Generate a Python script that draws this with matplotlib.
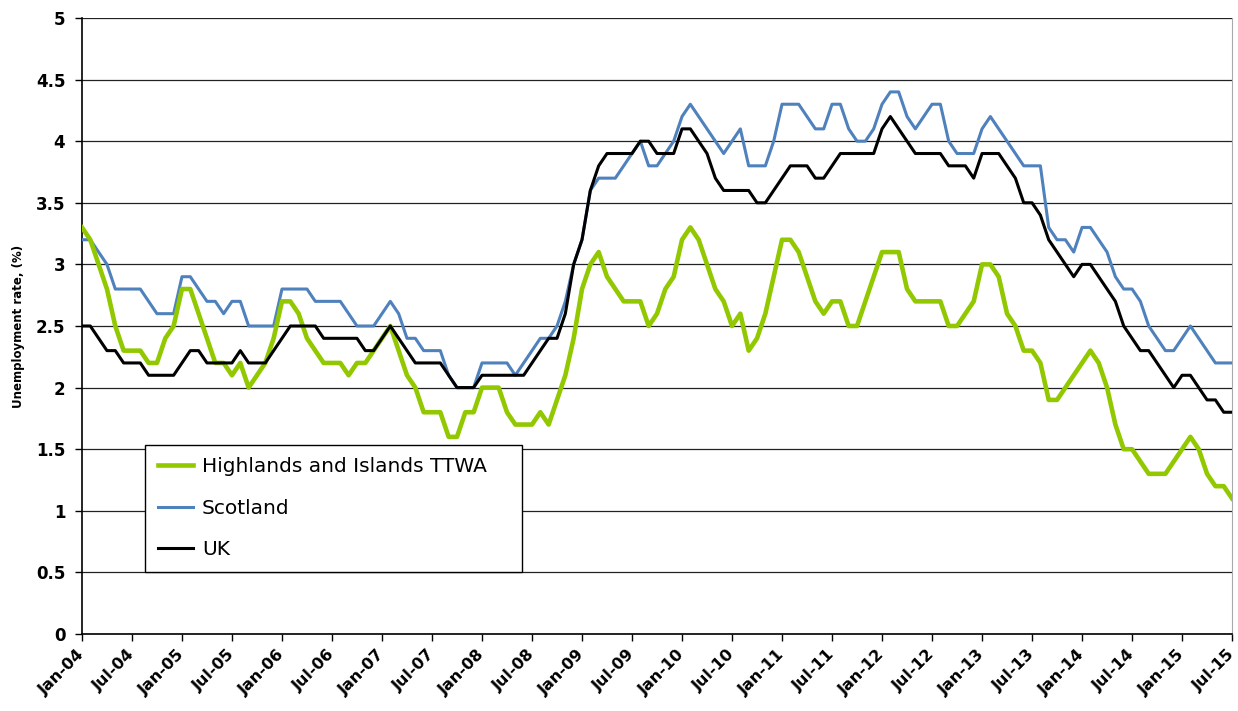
import matplotlib
matplotlib.use('Agg')
import matplotlib.pyplot as plt
from matplotlib.ticker import FuncFormatter
from matplotlib.transforms import ScaledTranslation
import numpy as np

# monthly unemployment rate (%), Jan-04 .. Jul-15
highlands = [3.3, 3.2, 3.0, 2.8, 2.5, 2.3, 2.3, 2.3, 2.2, 2.2,
             2.4, 2.5, 2.8, 2.8, 2.6, 2.4, 2.2, 2.2, 2.1, 2.2,
             2.0, 2.1, 2.2, 2.4, 2.7, 2.7, 2.6, 2.4, 2.3, 2.2,
             2.2, 2.2, 2.1, 2.2, 2.2, 2.3, 2.4, 2.5, 2.3, 2.1,
             2.0, 1.8, 1.8, 1.8, 1.6, 1.6, 1.8, 1.8, 2.0, 2.0,
             2.0, 1.8, 1.7, 1.7, 1.7, 1.8, 1.7, 1.9, 2.1, 2.4,
             2.8, 3.0, 3.1, 2.9, 2.8, 2.7, 2.7, 2.7, 2.5, 2.6,
             2.8, 2.9, 3.2, 3.3, 3.2, 3.0, 2.8, 2.7, 2.5, 2.6,
             2.3, 2.4, 2.6, 2.9, 3.2, 3.2, 3.1, 2.9, 2.7, 2.6,
             2.7, 2.7, 2.5, 2.5, 2.7, 2.9, 3.1, 3.1, 3.1, 2.8,
             2.7, 2.7, 2.7, 2.7, 2.5, 2.5, 2.6, 2.7, 3.0, 3.0,
             2.9, 2.6, 2.5, 2.3, 2.3, 2.2, 1.9, 1.9, 2.0, 2.1,
             2.2, 2.3, 2.2, 2.0, 1.7, 1.5, 1.5, 1.4, 1.3, 1.3,
             1.3, 1.4, 1.5, 1.6, 1.5, 1.3, 1.2, 1.2, 1.1]

scotland = [3.2, 3.2, 3.1, 3.0, 2.8, 2.8, 2.8, 2.8, 2.7, 2.6,
            2.6, 2.6, 2.9, 2.9, 2.8, 2.7, 2.7, 2.6, 2.7, 2.7,
            2.5, 2.5, 2.5, 2.5, 2.8, 2.8, 2.8, 2.8, 2.7, 2.7,
            2.7, 2.7, 2.6, 2.5, 2.5, 2.5, 2.6, 2.7, 2.6, 2.4,
            2.4, 2.3, 2.3, 2.3, 2.1, 2.0, 2.0, 2.0, 2.2, 2.2,
            2.2, 2.2, 2.1, 2.2, 2.3, 2.4, 2.4, 2.5, 2.7, 3.0,
            3.2, 3.6, 3.7, 3.7, 3.7, 3.8, 3.9, 4.0, 3.8, 3.8,
            3.9, 4.0, 4.2, 4.3, 4.2, 4.1, 4.0, 3.9, 4.0, 4.1,
            3.8, 3.8, 3.8, 4.0, 4.3, 4.3, 4.3, 4.2, 4.1, 4.1,
            4.3, 4.3, 4.1, 4.0, 4.0, 4.1, 4.3, 4.4, 4.4, 4.2,
            4.1, 4.2, 4.3, 4.3, 4.0, 3.9, 3.9, 3.9, 4.1, 4.2,
            4.1, 4.0, 3.9, 3.8, 3.8, 3.8, 3.3, 3.2, 3.2, 3.1,
            3.3, 3.3, 3.2, 3.1, 2.9, 2.8, 2.8, 2.7, 2.5, 2.4,
            2.3, 2.3, 2.4, 2.5, 2.4, 2.3, 2.2, 2.2, 2.2]

uk = [2.5, 2.5, 2.4, 2.3, 2.3, 2.2, 2.2, 2.2, 2.1, 2.1,
      2.1, 2.1, 2.2, 2.3, 2.3, 2.2, 2.2, 2.2, 2.2, 2.3,
      2.2, 2.2, 2.2, 2.3, 2.4, 2.5, 2.5, 2.5, 2.5, 2.4,
      2.4, 2.4, 2.4, 2.4, 2.3, 2.3, 2.4, 2.5, 2.4, 2.3,
      2.2, 2.2, 2.2, 2.2, 2.1, 2.0, 2.0, 2.0, 2.1, 2.1,
      2.1, 2.1, 2.1, 2.1, 2.2, 2.3, 2.4, 2.4, 2.6, 3.0,
      3.2, 3.6, 3.8, 3.9, 3.9, 3.9, 3.9, 4.0, 4.0, 3.9,
      3.9, 3.9, 4.1, 4.1, 4.0, 3.9, 3.7, 3.6, 3.6, 3.6,
      3.6, 3.5, 3.5, 3.6, 3.7, 3.8, 3.8, 3.8, 3.7, 3.7,
      3.8, 3.9, 3.9, 3.9, 3.9, 3.9, 4.1, 4.2, 4.1, 4.0,
      3.9, 3.9, 3.9, 3.9, 3.8, 3.8, 3.8, 3.7, 3.9, 3.9,
      3.9, 3.8, 3.7, 3.5, 3.5, 3.4, 3.2, 3.1, 3.0, 2.9,
      3.0, 3.0, 2.9, 2.8, 2.7, 2.5, 2.4, 2.3, 2.3, 2.2,
      2.1, 2.0, 2.1, 2.1, 2.0, 1.9, 1.9, 1.8, 1.8]

tick_labels = ['Jan-04', 'Jul-04', 'Jan-05', 'Jul-05', 'Jan-06', 'Jul-06',
               'Jan-07', 'Jul-07', 'Jan-08', 'Jul-08', 'Jan-09', 'Jul-09',
               'Jan-10', 'Jul-10', 'Jan-11', 'Jul-11', 'Jan-12', 'Jul-12',
               'Jan-13', 'Jul-13', 'Jan-14', 'Jul-14', 'Jan-15', 'Jul-15']

months = np.arange(len(highlands))

fig = plt.figure(figsize=(12.38, 7.11), dpi=100)
ax = fig.add_axes([0.0662, 0.1083, 0.9290, 0.8664])

l_blue, = ax.plot(months, scotland, color='#4F81BD', lw=2.2, label='Scotland', zorder=3)
l_green, = ax.plot(months, highlands, color='#92C800', lw=3.3, label='Highlands and Islands TTWA', zorder=4)
l_black, = ax.plot(months, uk, color='black', lw=2.2, label='UK', zorder=5)

ax.set_xlim(0, len(months) - 1)
ax.set_ylim(0, 5)
ax.set_yticks(np.arange(0, 5.01, 0.5))
ax.yaxis.set_major_formatter(FuncFormatter(lambda v, p: '%g' % v))
ax.set_xticks(np.arange(0, len(months), 6))
ax.set_xticklabels(tick_labels, rotation=45, ha='right', va='center',
                   rotation_mode='anchor', fontsize=11.5, fontweight='bold')
shift = ScaledTranslation(-3 / 72, 0, fig.dpi_scale_trans)
for t in ax.get_xticklabels():
    t.set_transform(t.get_transform() + shift)
for t in ax.get_yticklabels():
    t.set_fontsize(12)
    t.set_fontweight('bold')

ax.yaxis.grid(True, color='#222222', lw=0.9)
ax.set_axisbelow(True)
ax.tick_params(axis='both', direction='out', length=5, width=1, color='black')
ax.tick_params(axis='y', pad=7)
ax.tick_params(axis='x', pad=8)

ax.spines['top'].set_visible(False)
ax.spines['right'].set_color('#aaaaaa')
ax.spines['left'].set_linewidth(1.2)
ax.spines['bottom'].set_linewidth(1.2)

ax.set_ylabel('Unemployment rate, (%)', fontsize=8.5, fontweight='bold', labelpad=8)

leg = ax.legend(handles=[l_green, l_blue, l_black], loc='lower left',
                bbox_to_anchor=(0.0548, 0.1006, 0.3278, 0.2), mode='expand',
                borderaxespad=0, fontsize=14.5, frameon=True, fancybox=False,
                framealpha=1, edgecolor='black', handlelength=1.75,
                handletextpad=0.45, labelspacing=1.12, borderpad=0.63)
leg.get_frame().set_linewidth(1.0)

fig.savefig('out.png', dpi=100)
